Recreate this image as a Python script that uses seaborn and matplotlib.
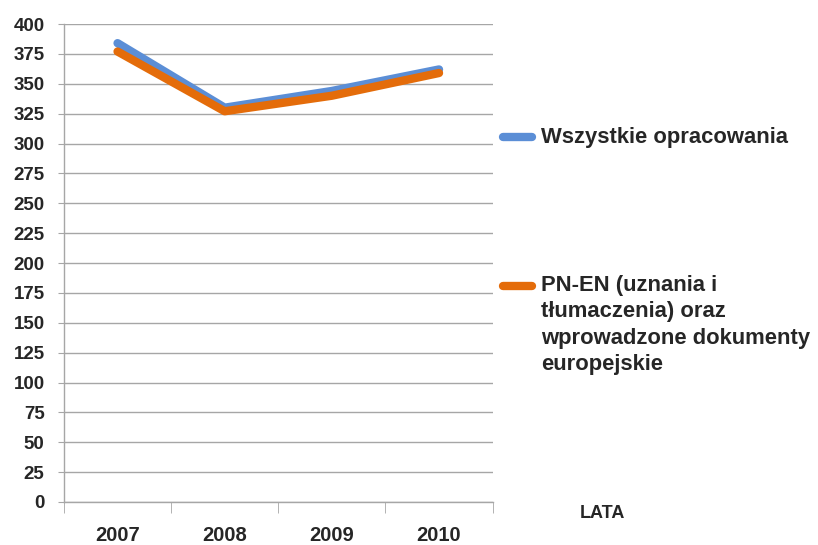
import numpy as np
import pandas as pd
import seaborn as sns
import matplotlib.pyplot as plt
from matplotlib.lines import Line2D

years = ['2007', '2008', '2009', '2010']
wszystkie = [384, 330, 344, 362]
pn_en = [377, 327, 340, 359]
y_ticks = list(range(0, 401, 25))

label_all = 'Wszystkie opracowania'
label_pn = 'PN-EN (uznania i\ntłumaczenia) oraz\nwprowadzone dokumenty\neuropejskie'
blue = '#5B8ED6'
orange = '#E46C0A'
grid_col = '#A6A6A6'

sns.set_style('white')
plt.rcParams['font.family'] = ['Liberation Sans', 'DejaVu Sans']

df = pd.DataFrame({
    'rok': years * 2,
    'liczba': wszystkie + pn_en,
    'seria': [label_all] * 4 + [label_pn] * 4,
})

fig = plt.figure(figsize=(8.18, 5.45), dpi=100)
ax = fig.add_axes([0.0782, 0.0789, 0.524, 0.877])

sns.lineplot(data=df, x='rok', y='liczba', hue='seria', sort=False,
             palette=[blue, orange], linewidth=6, legend=False, ax=ax,
             solid_capstyle='round')

ax.set_ylim(0, 400)
ax.set_xlim(-0.5, 3.5)
ax.set_yticks(y_ticks)
ax.yaxis.grid(True, color=grid_col, linewidth=1)
ax.set_axisbelow(True)
ax.tick_params(axis='y', length=4, color=grid_col, labelsize=13.5, pad=10, left=True)
ax.set_xticks(range(len(years)))
ax.set_xticklabels(years)
ax.set_xticks(np.arange(-0.5, 3.6, 1), minor=True)
ax.tick_params(axis='x', which='major', length=0, labelsize=14.5, pad=17)
ax.tick_params(axis='x', which='minor', length=8, color=grid_col, bottom=True)
for lbl in ax.get_xticklabels() + ax.get_yticklabels():
    lbl.set_fontweight('bold')
ax.set_xlabel('')
ax.set_ylabel('')
for side in ['top', 'right']:
    ax.spines[side].set_visible(False)
for side in ['left', 'bottom']:
    ax.spines[side].set_color(grid_col)
    ax.spines[side].set_linewidth(1)

# legend drawn by hand so the handle lines up with the first text line
def fy(py):
    return 1 - py / 545

for col, py, cy, txt in [(blue, 137, 137, label_all), (orange, 286, 325, label_pn)]:
    fig.add_artist(Line2D([503 / 818, 532 / 818], [fy(py), fy(py)], color=col,
                          linewidth=6, solid_capstyle='round'))
    fig.text(541 / 818, fy(cy), txt, fontsize=15.8, fontweight='bold',
             va='center', ha='left', linespacing=1.33)

fig.text(580 / 818, fy(513), 'LATA', fontsize=13, fontweight='bold',
         va='center', ha='left')

fig.savefig('out.png', dpi=100)
